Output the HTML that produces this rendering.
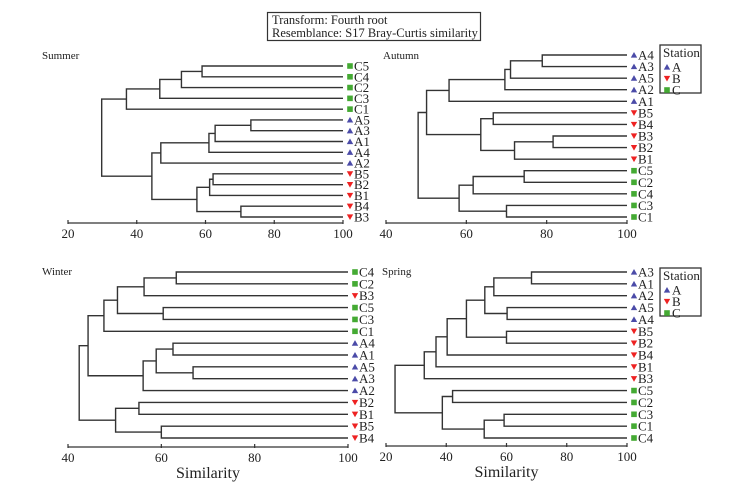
<!DOCTYPE html>
<html><head><meta charset="utf-8"><style>
body{margin:0;background:#fff}
svg{display:block;font-family:"Liberation Serif",serif}
</style></head><body>
<svg id="chart" width="750" height="485" viewBox="0 0 750 485" xmlns="http://www.w3.org/2000/svg">
<g>
<rect x="267.5" y="12.5" width="213" height="28" fill="#fff" stroke="#333" stroke-width="1.2"/>
<text x="272" y="24" font-size="12.5" fill="#222">Transform: Fourth root</text>
<text x="272" y="37" font-size="12.5" fill="#222">Resemblance: S17 Bray-Curtis similarity</text>
</g>
</svg>
<script>
// ---- data ----
const summerLeaves = ['C5','C4','C2','C3','C1','A5','A3','A1','A4','A2','B5','B2','B1','B4','B3'];
const summerMerges = [[0,1,59],[15,2,53],[16,3,46.7],[17,4,37],[5,6,73.2],[19,7,62.8],[20,8,61],[21,9,47],[10,11,62.2],[23,12,61.2],[13,14,70.3],[24,25,57.5],[22,26,44.4],[18,27,29.8]];
const summerTicks = [20,40,60,80,100];

const autumnLeaves = ['A4','A3','A5','A2','A1','B5','B4','B3','B2','B1','C5','C2','C4','C3','C1'];
const autumnMerges = [[0,1,78.9],[15,2,71],[16,3,69.6],[17,4,55.7],[5,6,66.7],[7,8,81.6],[20,9,72],[19,21,63.6],[18,22,50.1],[10,11,74.4],[24,12,61.7],[13,14,70],[25,26,58.2],[23,27,48]];
const autumnTicks = [40,60,80,100];

const winterLeaves = ['C4','C2','B3','C5','C3','C1','A4','A1','A5','A3','A2','B2','B1','B5','B4'];
const winterMerges = [[0,1,63.2],[15,2,56.3],[3,4,60.4],[16,17,50.6],[18,5,47.7],[6,7,62.5],[8,9,66.8],[20,21,58.9],[22,10,56.1],[11,12,55.2],[13,14,60],[24,25,50.2],[19,23,44.3],[27,26,42.4]];
const winterTicks = [40,60,80,100];

const springLeaves = ['A3','A1','A2','A5','A4','B5','B2','B4','B1','B3','C5','C2','C3','C1','C4'];
const springMerges = [[0,1,68.3],[15,2,55.8],[3,4,60.2],[16,17,52.8],[5,6,60],[18,19,46.7],[20,7,40.3],[21,8,36.6],[22,9,32.7],[10,11,42.1],[12,13,59.2],[25,14,52.6],[24,26,38.7],[23,27,23]];
const springTicks = [20,40,60,80,100];

// ---- rendering ----
const NS='http://www.w3.org/2000/svg';
const svg=document.getElementById('chart');
function mk(tag,attrs,parent){const e=document.createElementNS(NS,tag);for(const k in attrs)e.setAttribute(k,attrs[k]);parent.appendChild(e);return e;}
const colors={A:'#4b4ba8',B:'#ee2222',C:'#44aa33'};

function marker(g,type,cx,cy){
  let m;
  if(type==='A') m=mk('polygon',{points:`${cx-3.2},${cy+2.6} ${cx+3.2},${cy+2.6} ${cx},${cy-3}`,fill:colors.A},g);
  else if(type==='B') m=mk('polygon',{points:`${cx-3.2},${cy-2.6} ${cx+3.2},${cy-2.6} ${cx},${cy+3}`,fill:colors.B},g);
  else m=mk('rect',{x:cx-2.8,y:cy-2.8,width:5.6,height:5.6,fill:colors.C},g);
  return m;
}

function panel(name,title,leaves,merges,ticks,P){
  const g=mk('g',{},svg);
  
  
  const lo=ticks[0],hi=ticks[ticks.length-1];
  const xs=v=>P.x0+(v-lo)/(hi-lo)*(P.x1-P.x0);
  const ys=i=>P.y0+i*(P.y1-P.y0)/(leaves.length-1);
  const t=mk('text',{x:P.tx,y:P.ty,'font-size':11,fill:'#222'},g);
  t.textContent=title;
  
  
  const nodes=leaves.map((l,i)=>({x:xs(hi),y:ys(i)}));
  merges.forEach((m,k)=>{
    const a=nodes[m[0]],b=nodes[m[1]],x=xs(m[2]);
    const p=mk('path',{d:`M${a.x},${a.y}H${x}V${b.y}H${b.x}`,fill:'none',stroke:'#333','stroke-width':1.4},g);
    
    
    nodes.push({x:x,y:(a.y+b.y)/2});
  });
  leaves.forEach((l,i)=>{
    const lg=mk('g',{},g);
    
    
    marker(lg,l[0],xs(hi)+7,ys(i));
    const tx=mk('text',{x:xs(hi)+11,y:ys(i)+4.5,'font-size':13,fill:'#222'},lg);
    tx.textContent=l;
  });
  const ax=mk('g',{},g);
  
  
  mk('line',{x1:P.x0,x2:P.x1,y1:P.ay,y2:P.ay,stroke:'#333','stroke-width':1.3},ax);
  ticks.forEach(v=>{
    mk('line',{x1:xs(v),x2:xs(v),y1:P.ay-3,y2:P.ay+1,stroke:'#333','stroke-width':1.2},ax);
    const tl=mk('text',{x:xs(v),y:P.ay+15,'font-size':13,'text-anchor':'middle',fill:'#222'},ax);
    tl.textContent=v;
    
    
  });
  if(P.xt){
    const xt=mk('text',{x:(P.x0+P.x1)/2,y:P.ay+31,'font-size':16,'text-anchor':'middle',fill:'#222'},ax);
    xt.textContent='Similarity';
    
    
  }
  if(P.leg){
    const lg=mk('g',{},g);
    
    
    const [lx,ly]=P.leg;
    mk('rect',{x:lx,y:ly,width:41,height:48,fill:'#fff',stroke:'#333','stroke-width':1.3},lg);
    const st=mk('text',{x:lx+3,y:ly+12,'font-size':13,fill:'#222'},lg);
    st.textContent='Station';
    ['A','B','C'].forEach((s,i)=>{
      const e=mk('g',{},lg);
      
      
      marker(e,s,lx+7,ly+22+i*11.5);
      const tt=mk('text',{x:lx+12,y:ly+26.5+i*11.5,'font-size':13,fill:'#222'},e);
      tt.textContent=s;
    });
  }
}

panel('summer','Summer',summerLeaves,summerMerges,summerTicks,{x0:68,x1:343,y0:66,y1:217,ay:223,tx:42,ty:59});
panel('autumn','Autumn',autumnLeaves,autumnMerges,autumnTicks,{x0:386,x1:627,y0:55,y1:217,ay:223,tx:383,ty:59,leg:[660,45]});
panel('winter','Winter',winterLeaves,winterMerges,winterTicks,{x0:68,x1:348,y0:272,y1:438,ay:447,tx:42,ty:275,xt:true});
panel('spring','Spring',springLeaves,springMerges,springTicks,{x0:386,x1:627,y0:272,y1:438,ay:446,tx:382,ty:275,leg:[660,268],xt:true});
</script>
</body></html>
